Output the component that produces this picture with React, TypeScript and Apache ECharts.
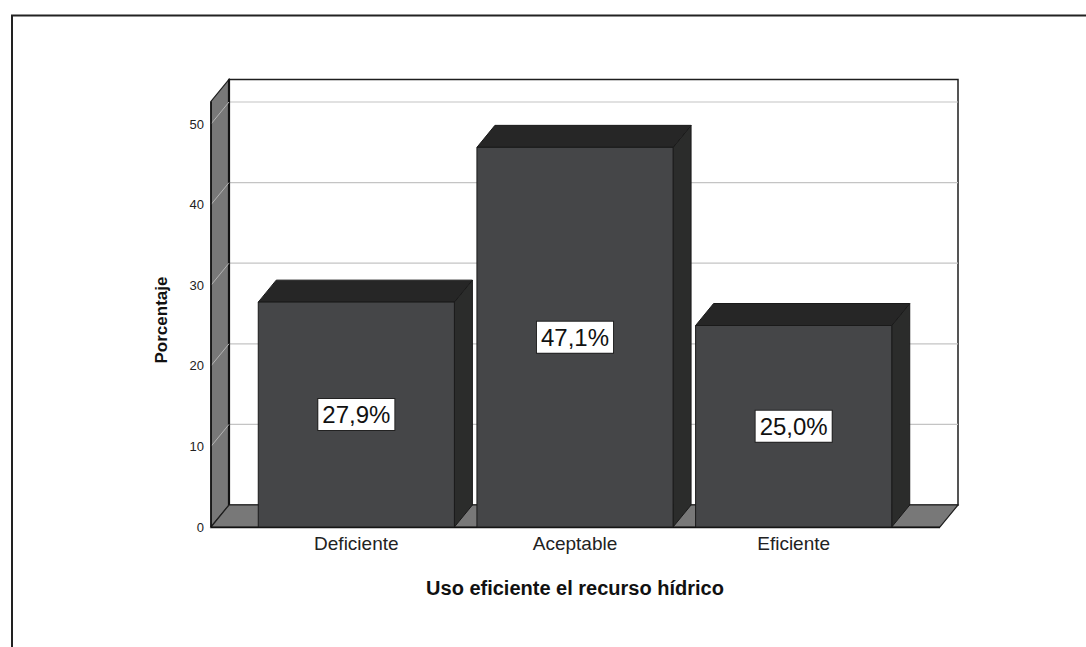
import React, { useEffect, useRef } from "react";
import * as echarts from "echarts";

const categories = ["Deficiente", "Aceptable", "Eficiente"];
const percentages = [27.9, 47.1, 25.0];
const yTicks = [0, 10, 20, 30, 40, 50];
const yMax = 52.8;
const xTitle = "Uso eficiente el recurso hídrico";
const yTitle = "Porcentaje";

const FONT = "'Liberation Sans', Arial, Helvetica, sans-serif";
const DX = 18;
const DY = -22;
const EXT_L = 36;
const EXT_R = 37;
const BAR_RATIO = 0.897;

const WALL = "#787878";
const EDGE = "#1e1e1e";
const BAR_FRONT = "#454648";
const BAR_TOP = "#262626";
const BAR_SIDE = "#2b2c2b";

export default function App() {
  const ref = useRef<HTMLDivElement>(null);

  useEffect(() => {
    if (!ref.current) return;
    const chart = echarts.init(ref.current, undefined, { renderer: "svg" });

    const renderFrame = (params: any, api: any) => {
      const cs = params.coordSys;
      const xl = cs.x - EXT_L;
      const xr = cs.x + cs.width + EXT_R;
      const y0 = api.coord([0, 0])[1];
      const yT = api.coord([0, yMax])[1];
      const children: any[] = [];
      children.push({
        type: "rect",
        shape: { x: xl + DX, y: yT + DY, width: xr - xl, height: y0 - yT },
        style: { fill: "#ffffff", stroke: EDGE, lineWidth: 1.5 },
      });
      yTicks.forEach((v) => {
        if (v === 0) return;
        const y = api.coord([0, v])[1];
        children.push({
          type: "line",
          shape: { x1: xl + DX, y1: y + DY, x2: xr + DX, y2: y + DY },
          style: { stroke: "#c4c4c4", lineWidth: 1.2 },
        });
      });
      children.push({
        type: "polygon",
        shape: {
          points: [
            [xl, yT],
            [xl + DX, yT + DY],
            [xl + DX, y0 + DY],
            [xl, y0],
          ],
        },
        style: { fill: WALL, stroke: EDGE, lineWidth: 1.2 },
      });
      children.push({
        type: "line",
        shape: { x1: xl + DX, y1: yT + DY, x2: xl + DX, y2: y0 + DY },
        style: { stroke: "#111", lineWidth: 2.2 },
      });
      yTicks.forEach((v) => {
        if (v === 0) return;
        const y = api.coord([0, v])[1];
        children.push({
          type: "line",
          shape: { x1: xl, y1: y, x2: xl + DX, y2: y + DY },
          style: { stroke: "#b4b4b4", lineWidth: 1 },
        });
      });
      children.push({
        type: "polygon",
        shape: {
          points: [
            [xl, y0],
            [xl + DX, y0 + DY],
            [xr + DX, y0 + DY],
            [xr, y0],
          ],
        },
        style: { fill: WALL, stroke: EDGE, lineWidth: 1.2 },
      });
      children.push({
        type: "line",
        shape: { x1: xl, y1: y0 + 0.5, x2: xr, y2: y0 + 0.5 },
        style: { stroke: "#111", lineWidth: 1.6 },
      });
      children.push({
        type: "line",
        shape: { x1: xl, y1: yT, x2: xl, y2: y0 },
        style: { stroke: "#111", lineWidth: 1.6 },
      });
      return { type: "group", children };
    };

    const renderBar = (params: any, api: any) => {
      const idx = api.value(0);
      const val = api.value(1);
      const top = api.coord([idx, val]);
      const base = api.coord([idx, 0]);
      const band = api.size([1, 0])[0];
      const w = band * BAR_RATIO;
      const x = top[0] - w / 2;
      const yt = top[1];
      const yb = base[1];
      const label = val.toFixed(1).replace(".", ",") + "%";
      return {
        type: "group",
        children: [
          {
            type: "polygon",
            shape: {
              points: [
                [x + w, yt],
                [x + w + DX, yt + DY],
                [x + w + DX, yb + DY],
                [x + w, yb],
              ],
            },
            style: { fill: BAR_SIDE, stroke: "#1a1a1a", lineWidth: 1 },
          },
          {
            type: "polygon",
            shape: {
              points: [
                [x, yt],
                [x + DX, yt + DY],
                [x + w + DX, yt + DY],
                [x + w, yt],
              ],
            },
            style: { fill: BAR_TOP, stroke: "#1a1a1a", lineWidth: 1 },
          },
          {
            type: "rect",
            shape: { x, y: yt, width: w, height: yb - yt },
            style: { fill: BAR_FRONT, stroke: "#1a1a1a", lineWidth: 1 },
          },
          {
            type: "text",
            x: top[0],
            y: (yt + yb) / 2,
            style: {
              text: label,
              align: "center",
              verticalAlign: "middle",
              fontSize: 24,
              fontFamily: FONT,
              fill: "#111",
              backgroundColor: "#ffffff",
              borderColor: "#222",
              borderWidth: 1,
              padding: [4, 4, 3, 4],
            },
          },
        ],
      };
    };

    chart.setOption({
      animation: false,
      backgroundColor: "#ffffff",
      grid: { left: 247, top: 527 - 8.06 * yMax, width: 656, height: 8.06 * yMax },
      xAxis: {
        type: "category",
        data: categories,
        axisLine: { show: false },
        axisTick: { show: false },
        axisLabel: { fontSize: 19, color: "#222", fontFamily: FONT, margin: 7 },
      },
      yAxis: {
        type: "value",
        min: 0,
        max: yMax,
        interval: 10,
        axisLine: { show: false },
        axisTick: { show: false },
        splitLine: { show: false },
        axisLabel: {
          fontSize: 13,
          color: "#222",
          fontFamily: FONT,
          margin: 43,
          showMaxLabel: false,
          formatter: (v: number) => (yTicks.indexOf(v) >= 0 ? String(v) : ""),
        },
      },
      graphic: [
        {
          type: "rect",
          x: 12,
          y: 15.5,
          shape: { x: 0, y: 0, width: 1200, height: 800 },
          style: { fill: "none", stroke: "#222", lineWidth: 2 },
          silent: true,
        },
        {
          type: "text",
          x: 161,
          y: 320,
          rotation: Math.PI / 2,
          style: {
            text: yTitle,
            align: "center",
            verticalAlign: "middle",
            fontSize: 17,
            fontWeight: "bold",
            fontFamily: FONT,
            fill: "#111",
          },
        },
        {
          type: "text",
          x: 575,
          y: 588,
          style: {
            text: xTitle,
            align: "center",
            verticalAlign: "middle",
            fontSize: 20,
            fontWeight: "bold",
            fontFamily: FONT,
            fill: "#111",
          },
        },
      ],
      series: [
        {
          type: "custom",
          renderItem: renderFrame,
          data: [[0, 0]],
          silent: true,
          z: 1,
        },
        {
          type: "custom",
          renderItem: renderBar,
          data: percentages.map((v, i) => [i, v]),
          silent: true,
          z: 2,
        },
      ],
    });

    return () => chart.dispose();
  }, []);

  return (
    <div
      ref={ref}
      style={{ position: "fixed", left: 0, top: 0, width: 1086, height: 647 }}
    />
  );
}
